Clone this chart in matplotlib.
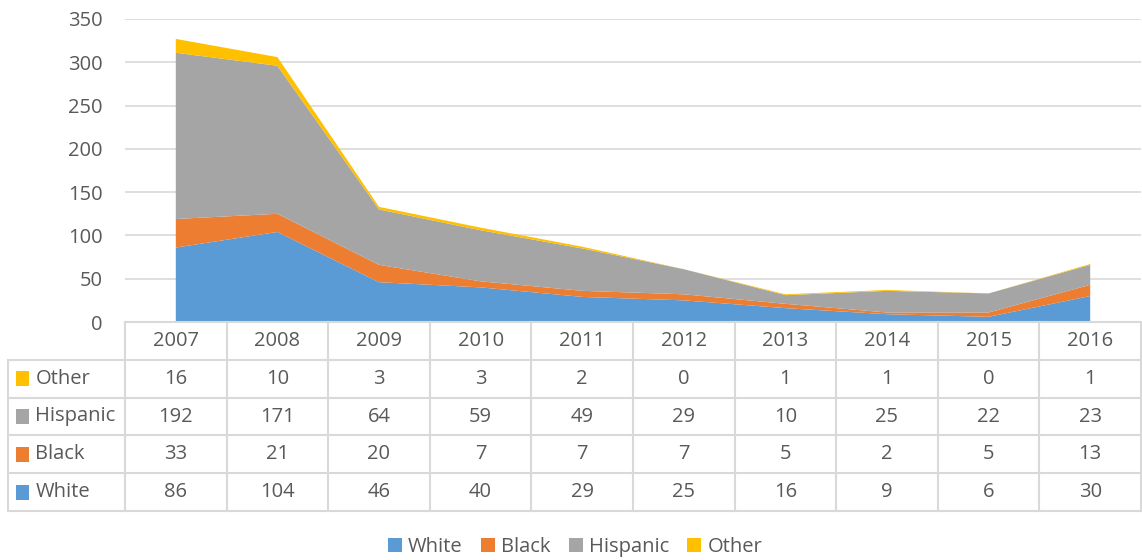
import matplotlib.pyplot as plt
from matplotlib.patches import Rectangle
import numpy as np

plt.rcParams['font.family'] = ['Open Sans', 'DejaVu Sans']

years = ['2007', '2008', '2009', '2010', '2011', '2012', '2013', '2014', '2015', '2016']
white = [86, 104, 46, 40, 29, 25, 16, 9, 6, 30]
black = [33, 21, 20, 7, 7, 7, 5, 2, 5, 13]
hispanic = [192, 171, 64, 59, 49, 29, 10, 25, 22, 23]
other = [16, 10, 3, 3, 2, 0, 1, 1, 0, 1]

series_names = ['White', 'Black', 'Hispanic', 'Other']
series = [white, black, hispanic, other]
colors = ['#5B9BD5', '#ED7D31', '#A5A5A5', '#FFC000']

txt = '#595959'
grid_c = '#D9D9D9'
fs = 14.5
W, H = 1142, 560

fig = plt.figure(figsize=(W / 100, H / 100), dpi=100)

# chart area
ax = fig.add_axes([125 / W, 1 - 322 / H, (1141 - 125) / W, (322 - 19) / H])
x = np.arange(len(years))
ax.stackplot(x, *series, colors=colors, labels=series_names, linewidth=0)
ax.set_xlim(-0.5, len(years) - 0.5)
ax.set_ylim(0, 350)
ax.set_yticks(np.arange(0, 351, 50))
ax.yaxis.grid(True, color=grid_c, linewidth=1.2)
ax.set_axisbelow(True)
ax.set_xticks([])
ax.tick_params(axis='y', length=0, pad=16, labelsize=fs, labelcolor=txt)
for s in ax.spines.values():
    s.set_visible(False)

# data table below
lab_w = (125 - 8) / ((1141 - 125) / len(years))
tab = fig.add_axes([8 / W, 1 - 511 / H, (1141 - 8) / W, (511 - 322) / H])
tab.set_xlim(-0.5 - lab_w, len(years) - 0.5)
tab.set_ylim(5, 0)
tab.axis('off')
lc = dict(color=grid_c, linewidth=1.5, clip_on=False)
left = -0.5 - lab_w
right = len(years) - 0.5
tab.plot([-0.5, right], [0, 0], **lc)
for r in range(1, 6):
    tab.plot([left, right], [r, r], **lc)
for c in range(len(years) + 1):
    tab.plot([c - 0.5, c - 0.5], [0, 5], **lc)
tab.plot([left, left], [1, 5], **lc)

for i, yr in enumerate(years):
    tab.text(i, 0.5, yr, ha='center', va='center', fontsize=fs, color=txt)

rows = list(zip(series_names, series, colors))[::-1]
for r, (name, vals, col) in enumerate(rows, start=1):
    tab.add_patch(Rectangle((left + 0.08, r + 0.5 - 0.2), 0.13, 0.4,
                            facecolor=col, edgecolor='none'))
    tab.text(left + 0.27, r + 0.5, name, ha='left', va='center', fontsize=fs, color=txt)
    for i, v in enumerate(vals):
        tab.text(i, r + 0.5, str(v), ha='center', va='center', fontsize=fs, color=txt)

handles, labels = ax.get_legend_handles_labels()
fig.legend(handles, labels, loc='center', bbox_to_anchor=(575 / W, 1 - 547 / H),
           ncol=4, frameon=False, fontsize=fs, labelcolor=txt,
           handlelength=0.7, handleheight=0.7, handletextpad=0.3, columnspacing=0.9)

fig.savefig('out.png', dpi=100)
